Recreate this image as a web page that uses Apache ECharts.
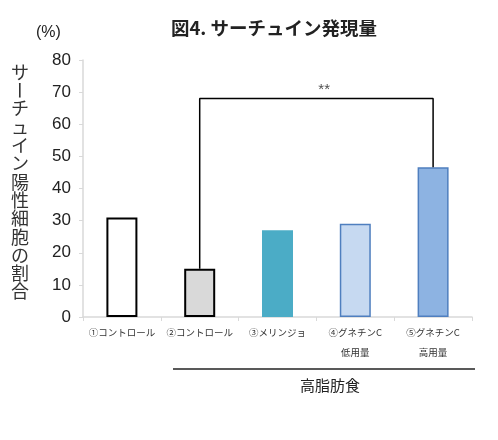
<!DOCTYPE html>
<html><head><meta charset="utf-8">
<script src="https://cdn.jsdelivr.net/npm/echarts@6/dist/echarts.min.js"></script>
<style>html,body{margin:0;padding:0;background:#fff}#c{width:498px;height:440px}</style>
</head><body><div id="c"></div>
<script>
const categories = ['①コントロール', '②コントロール', '③メリンジョ', '④グネチンC\n低用量', '⑤グネチンC\n高用量'];
const values = [31, 15, 27, 29, 46.6];
const yTicks = [0, 10, 20, 30, 40, 50, 60, 70, 80];
const bracketLevel = 68;
const bracketFrom = 1, bracketTo = 4;
const sigLabel = '**';
const yTitle = 'サーチュイン陽性細胞の割合';

const fills = ['#ffffff', '#d9d9d9', '#4bacc6', '#c6d9f1', '#8db3e2'];
const borders = ['#000000', '#000000', '#4bacc6', '#4f7fbf', '#4f7fbf'];
const borderW = [2, 2, 0, 1.5, 1.5];

const chart = echarts.init(document.getElementById('c'));
const font = '"Liberation Sans", Arial, "Noto Sans CJK JP", sans-serif';

const titleGraphics = [];
const chars = Array.from(yTitle);
chars.forEach((ch, i) => {
  const y = 72 + i * 18.3;
  titleGraphics.push({
    type: 'text', x: 20, y: y, rotation: ch === 'ー' ? Math.PI / 2 : 0,
    style: { text: ch, font: '18px "Noto Sans CJK JP", sans-serif', fill: '#333', textAlign: 'center', textVerticalAlign: 'middle' }
  });
});

chart.setOption({
  animation: false,
  textStyle: { fontFamily: font },
  title: {
    text: '図4. サーチュイン発現量', left: 269, top: 14, textAlign: 'center',
    textStyle: { fontSize: 18.5, fontWeight: 'bold', color: '#222', fontFamily: '"Noto Sans CJK JP", sans-serif' }
  },
  grid: { left: 83, right: 26, top: 60, bottom: 123 },
  xAxis: [{
    type: 'category', data: categories,
    axisLine: { onZero: false, lineStyle: { color: '#d9d9d9', width: 1.5 } },
    axisTick: { show: true, alignWithLabel: false, length: 4, lineStyle: { color: '#d9d9d9' } },
    axisLabel: { fontSize: 9.5, color: '#333', margin: 5, lineHeight: 20, interval: 0, fontFamily: '"Noto Sans CJK JP", sans-serif' }
  }, {
    type: 'value', min: -0.5, max: 4.5, show: false
  }],
  yAxis: {
    type: 'value', min: 0, max: 80, interval: 10,
    axisLine: { show: true, onZero: false, lineStyle: { color: '#d9d9d9', width: 1.5 } },
    axisTick: { show: true, length: 4, lineStyle: { color: '#d9d9d9' } },
    splitLine: { show: false },
    axisLabel: { fontSize: 17, color: '#222', margin: 12, formatter: v => yTicks.includes(v) ? String(v) : '' }
  },
  series: [{
    type: 'bar', barWidth: 31,
    data: values.map((v, i) => ({ value: v, itemStyle: { color: fills[i], borderColor: borders[i], borderWidth: borderW[i] } }))
  }, {
    type: 'line', xAxisIndex: 1, symbol: 'none', z: 5,
    lineStyle: { color: '#000', width: 1.5 },
    data: [[bracketFrom, values[bracketFrom]], [bracketFrom, bracketLevel], [bracketTo, bracketLevel], [bracketTo, values[bracketTo]]]
  }, {
    type: 'scatter', xAxisIndex: 1, symbolSize: 0,
    label: { show: true, position: 'top', distance: 1, formatter: sigLabel, fontSize: 15, color: '#222' },
    data: [[(bracketFrom + bracketTo) / 2 + 0.1, bracketLevel]]
  }],
  graphic: [
    { type: 'text', x: 36, y: 25, style: { text: '(%)', font: '16px "Liberation Sans", Arial, sans-serif', fill: '#222' } },
    { type: 'line', shape: { x1: 173, y1: 369, x2: 475, y2: 369 }, style: { stroke: '#222', lineWidth: 1.5 } },
    { type: 'text', x: 330, y: 385, style: { text: '高脂肪食', font: '15px "Noto Sans CJK JP", sans-serif', fill: '#222', textAlign: 'center', textVerticalAlign: 'middle' } }
  ].concat(titleGraphics)
});
</script>
</body></html>
